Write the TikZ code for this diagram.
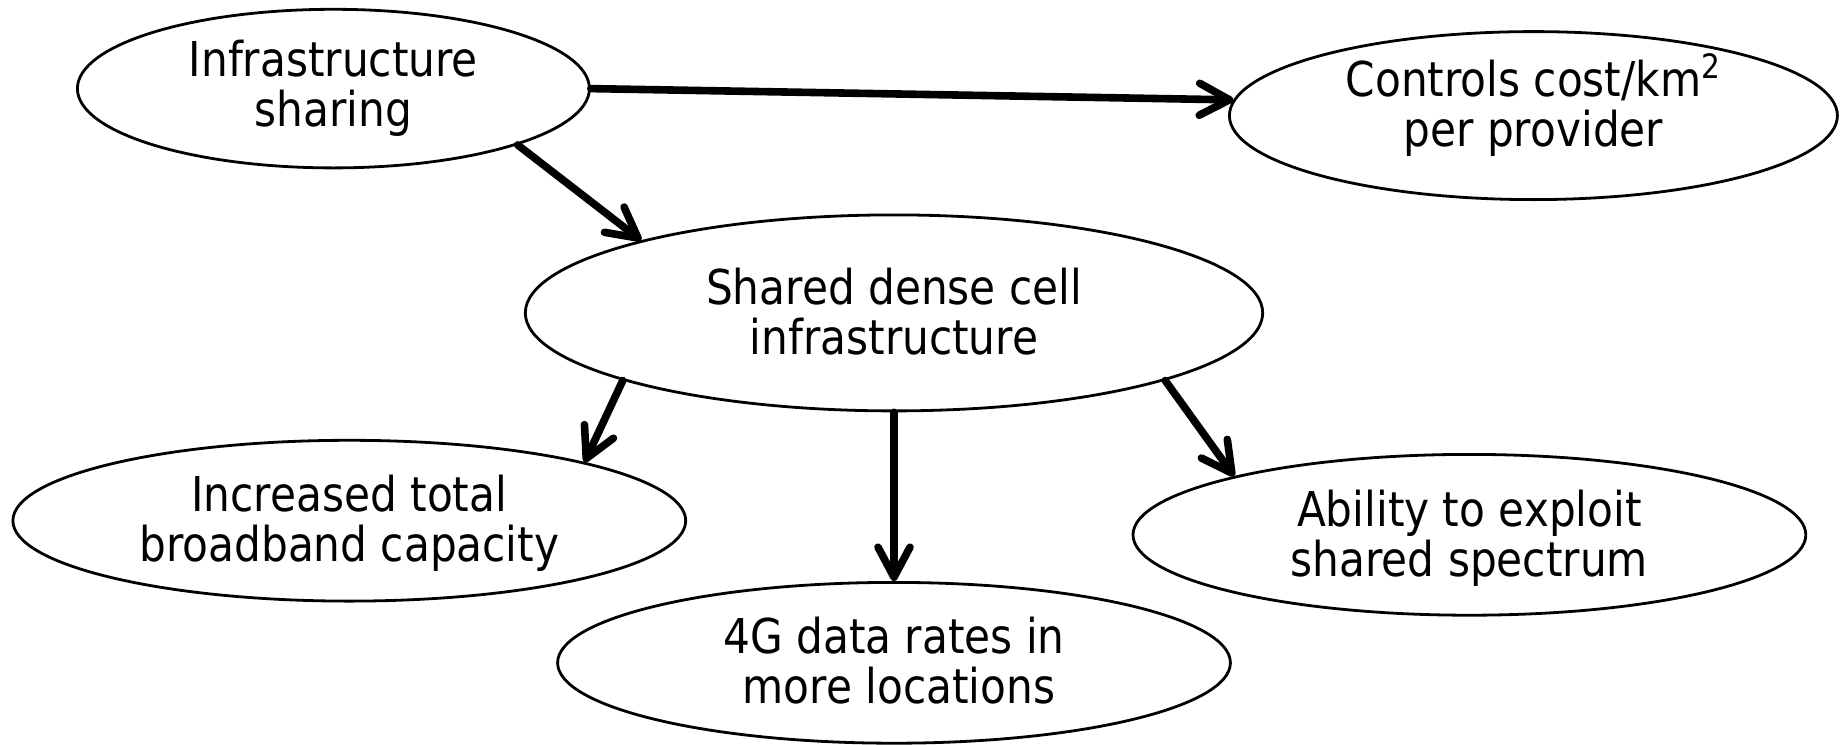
\documentclass[tikz,border=0pt]{standalone}
\usepackage{fontspec}
\setmainfont{DejaVu Sans}[FakeStretch=0.88]
\usetikzlibrary{shapes.geometric,arrows.meta}

\tikzset{
  oval/.style={ellipse, draw, line width=1.4pt, inner sep=0pt, fill=white},
  % labels are placed by the baseline of their last line
  lbl/.style={align=center, anchor=base, inner sep=0pt,
              font=\fontsize{24}{25}\selectfont},
  arr/.style={line width=3.8pt, line cap=round,
              -{Straight Barb[length=15pt,width=16pt,round]}}
}

\begin{document}
\begin{tikzpicture}[x=0.5pt,y=-0.5pt]
  \path[use as bounding box] (0,0) rectangle (1841,744);

  % ovals (diameters in pt = radii in px)
  \node[oval, minimum width=256pt, minimum height=79.3pt] (share) at (333.4,88.6) {};
  \node[oval, minimum width=304pt, minimum height=84pt]   (cost)  at (1533.4,115.6) {};
  \node[oval, minimum width=368.7pt, minimum height=98pt] (dense) at (894,312.9) {};
  \node[oval, minimum width=336.4pt, minimum height=80.4pt] (cap) at (349.3,520.7) {};
  \node[oval, minimum width=336.4pt, minimum height=80.4pt] (spec) at (1469.4,534.8) {};
  \node[oval, minimum width=336.4pt, minimum height=80.4pt] (rates) at (894,662.8) {};

  % labels
  \node[lbl] (shareT) at (333.4,126.8) {Infrastructure\\sharing};
  \node[lbl] (costT)  at (1533.4,146.7) {Controls cost/km\textsuperscript{2}\\per provider};
  \node[lbl] (denseT) at (894,354.6) {Shared dense cell\\infrastructure};
  \node[lbl] (capT)   at (349.3,561.2) {Increased total\\broadband capacity};
  \node[lbl] (specT)  at (1469.4,576.5) {Ability to exploit\\shared spectrum};
  \node[lbl] (ratesT) at (894,703.5) {4G data rates in\\\hspace*{5pt}more locations};

  % connectors
  \draw[arr] (share.0.65) -- (cost.177.7);
  \draw[arr] (share.-17.4) -- (dense.164.8);
  \draw[arr] (dense.194.3) -- (cap.14.1);
  \draw[arr] (dense.south) -- (rates.north);
  \draw[arr] (dense.-14.3) -- (spec.166.1);
\end{tikzpicture}
\end{document}
